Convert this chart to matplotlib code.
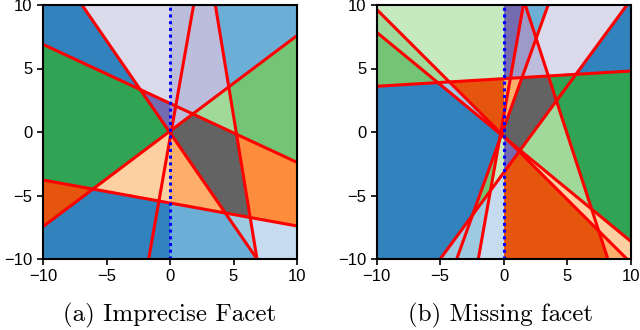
import numpy as np
import matplotlib
matplotlib.use("Agg")
import matplotlib.pyplot as plt

# tab20c shades used by the regions
b1, b2, b3, b4 = "#3182bd", "#6baed6", "#9ecae1", "#c6dbef"
o1, o2, o3, o4 = "#e6550d", "#fd8d3c", "#fdae6b", "#fdd0a2"
g1, g2, g3, g4 = "#31a354", "#74c476", "#a1d99b", "#c7e9c0"
p1, p2, p3, p4 = "#756bb1", "#9e9ac8", "#bcbddc", "#dadaeb"
k1 = "#636363"

ticks = [-10, -5, 0, 5, 10]
captions = ["(a) Imprecise Facet", "(b) Missing facet"]

# red lines, (x1, y1, x2, y2)
lines_a = [(-6.93, 10, 6.85, -10),
           (-10, 6.9, 10, -2.39),
           (-10, -7.45, 10, 7.59),
           (-10, -3.78, 10, -7.4),
           (-1.68, -10, 1.86, 10),
           (3.57, 10, 6.85, -10)]

lines_b = [(-10, 9.65, 9.7, -10),
           (-10, 7.85, 10, -8.6),
           (-10, 3.6, 10, 4.8),
           (-5.0, -10, 9.7, 10),
           (1.7, 10, 8.2, -10),
           (3.5, 10, -3.7, -10),
           (1.55, 10, -2.0, -10)]

# one point per region with its colour
seeds_a_xy = [(-9, 9), (-3, 8), (0.5, 8), (2.5, 8), (3, 1.5), (8, 9), (8, 3),
              (-0.6, 1.0), (0.15, 1.3), (1.0, 1.3), (-6, 0), (3, -2), (8, -4),
              (-2.5, -3.5), (-0.2, -3), (1, -4.5), (-9, -5.5), (-5, -8),
              (-0.5, -8), (2, -8), (5.5, -7.5), (8.5, -9)]
seeds_a_col = [b1, p4, p3, p3, g3, b2, g2,
               p1, p2, p3, g1, k1, o2,
               o4, o4, o3, o1, b1,
               b1, b2, b3, b4]

seeds_b_xy = [(-5, 8), (-9.5, 8.5), (-6.6, 5.7), (-9, 5.5), (-6, -3), (-3, 2.4),
              (-1.5, 2.5), (0.15, 2.5), (0.6, 2.5), (2.5, 2), (0.5, 8), (2.6, 9.3),
              (2.6, 5.5), (1.5, 6), (5, 8), (9, 7), (8, 0), (4.6, 3.6), (4, -1),
              (5, -4.6), (8.5, -7.6), (9.3, -9.8), (4, -6), (0.3, -1.2),
              (-0.3, -8), (-2, -8), (-3.6, -9), (-1.1, -3.5), (-0.3, -1.5)]
seeds_b_col = [g4, g3, g3, g2, b1, b3,
               o1, o3, o3, k1, p1, b2,
               p3, p2, p4, b1, g1, g1, g3,
               o4, o4, o3, o1, p1,
               b4, b3, b3, g2, g4]


def side(ln, x, y):
    x1, y1, x2, y2 = ln
    return np.sign((x2 - x1) * (y - y1) - (y2 - y1) * (x - x1))


def regions(lines, seeds_xy, seeds_col, n=500):
    bounds = lines + [(0, -10, 0, 10)]
    xs = (np.arange(n) + 0.5) / n * 20 - 10
    X, Y = np.meshgrid(xs, xs)
    S = np.array([side(ln, X, Y) for ln in bounds])
    best = np.full(X.shape, np.inf)
    idx = np.zeros(X.shape, dtype=int)
    for i, (sx, sy) in enumerate(seeds_xy):
        ss = np.array([side(ln, sx, sy) for ln in bounds])
        ham = (S != ss[:, None, None]).sum(axis=0)
        cost = ham * 1000 + np.hypot(X - sx, Y - sy)
        m = cost < best
        best[m] = cost[m]
        idx[m] = i
    cols = np.array([matplotlib.colors.to_rgb(c) for c in seeds_col])
    return cols[idx]


fig = plt.figure(figsize=(6.4, 3.3), dpi=100)
lefts = [43 / 640, 376.7 / 640]
panels = [(lines_a, seeds_a_xy, seeds_a_col), (lines_b, seeds_b_xy, seeds_b_col)]
cap_x = [170 / 640, 501 / 640]

for k, (lines, sxy, scol) in enumerate(panels):
    ax = fig.add_axes([lefts[k], 71 / 330, 254 / 640, 254 / 330])
    ax.imshow(regions(lines, sxy, scol), extent=(-10, 10, -10, 10),
              origin="lower", interpolation="nearest", aspect="auto")
    for x1, y1, x2, y2 in lines:
        ax.plot([x1, x2], [y1, y2], color="red", lw=2.2)
    ax.plot([0, 0], [-10, 10], color="blue", lw=2.2, ls=(0, (1, 1.2)))
    ax.set_xlim(-10, 10)
    ax.set_ylim(-10, 10)
    ax.set_xticks(ticks)
    ax.set_yticks(ticks)
    ax.tick_params(length=4, width=1.2, labelsize=12)
    for lab in ax.get_xticklabels() + ax.get_yticklabels():
        lab.set_fontfamily("Liberation Sans")
    for sp in ax.spines.values():
        sp.set_linewidth(1.5)
    fig.text(cap_x[k], 1 - 315 / 330, captions[k], ha="center", va="center",
             fontfamily="cmr10", fontsize=18)

fig.savefig("out.png", dpi=100)
